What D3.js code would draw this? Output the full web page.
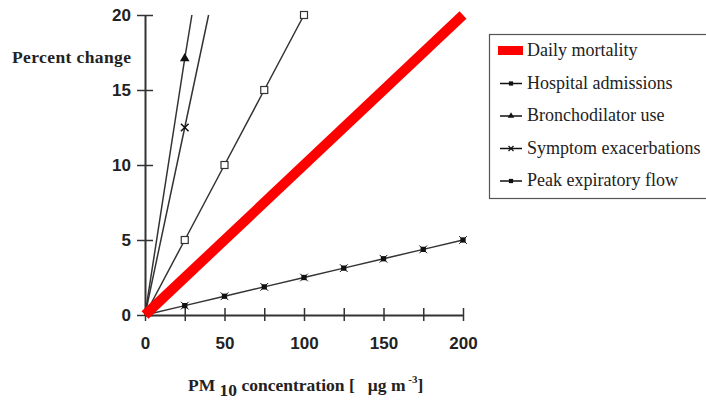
<!DOCTYPE html>
<html><head><meta charset="utf-8">
<script src="https://cdn.jsdelivr.net/npm/d3@7"></script>
<style>body{margin:0;background:#fff}svg{display:block}</style>
</head><body>
<script>
// Data
const xTicks = [0, 25, 50, 75, 100, 125, 150, 175, 200];
const xTickLabels = [0, 50, 100, 150, 200];
const yTicks = [0, 5, 10, 15, 20];
const mortalityX = [0, 200];
const mortalityY = [0, 20];
const hospitalX = [0, 25, 50, 75, 100];
const hospitalY = [0, 5, 10, 15, 20];
const bronchoX = [0, 25, 29.5];
const bronchoY = [0, 17.1, 20];
const symptomX = [0, 25, 40];
const symptomY = [0, 12.5, 20];
const peakX = [0, 25, 50, 75, 100, 125, 150, 175, 200];
const peakY = [0, 0.625, 1.25, 1.875, 2.5, 3.125, 3.75, 4.375, 5];
const legendLabels = ["Daily mortality", "Hospital admissions", "Bronchodilator use", "Symptom exacerbations", "Peak expiratory flow"];

const W = 706, H = 402;
const svg = d3.select("body").append("svg").attr("width", W).attr("height", H);
const x = d3.scaleLinear().domain([0, 200]).range([145, 463]);
const y = d3.scaleLinear().domain([0, 20]).range([315, 15]);
const ink = "#333";
const serif = "Liberation Serif, Times New Roman, serif";
const sans = "Liberation Sans, Arial, sans-serif";

// axes
const gy = svg.append("g").attr("transform", `translate(${x(0)},0)`)
  .call(d3.axisLeft(y).tickValues(yTicks).tickSize(0).tickPadding(14));
gy.select(".domain").attr("stroke", ink).attr("stroke-width", 2);
gy.selectAll(".tick").append("line").attr("x1", -8).attr("x2", 8).attr("stroke", ink).attr("stroke-width", 1.5);
gy.selectAll("text").attr("font-family", sans).attr("font-weight", "bold").attr("font-size", 17).attr("fill", "#222");

const gx = svg.append("g").attr("transform", `translate(0,${y(0)})`)
  .call(d3.axisBottom(x).tickValues(xTicks).tickSize(0).tickPadding(22)
    .tickFormat(d => xTickLabels.includes(d) ? d : ""));
gx.select(".domain").attr("stroke", ink).attr("stroke-width", 2);
gx.selectAll(".tick").append("line").attr("y1", -7).attr("y2", 6).attr("stroke", ink).attr("stroke-width", 1.5);
gx.selectAll("text").attr("font-family", sans).attr("font-weight", "bold").attr("font-size", 17).attr("fill", "#222");

// axis titles
svg.append("text").attr("x", 12).attr("y", 63)
  .attr("font-family", serif).attr("font-weight", "bold").attr("font-size", 17.5).attr("fill", "#222")
  .attr("textLength", 119).attr("lengthAdjust", "spacing")
  .text("Percent change");
const xt = svg.append("text").attr("x", 188).attr("y", 391)
  .style("white-space", "pre")
  .attr("font-family", serif).attr("font-weight", "bold").attr("font-size", 17.5).attr("fill", "#222");
xt.append("tspan").text("PM ");
xt.append("tspan").attr("dy", 5).text("10");
xt.append("tspan").attr("dy", -5).text(" concentration [   μg m");
xt.append("tspan").attr("dy", -8).attr("font-size", 11).text(" -3");
xt.append("tspan").attr("dy", 8).text("]");

const line = d3.line().x(d => x(d[0])).y(d => y(d[1]));
const zip = (a, b) => a.map((v, i) => [v, b[i]]);

// series lines
[[hospitalX, hospitalY], [bronchoX, bronchoY], [symptomX, symptomY], [peakX, peakY]].forEach(([xs, ys]) => {
  svg.append("path").attr("d", line(zip(xs, ys))).attr("fill", "none").attr("stroke", ink).attr("stroke-width", 1.5);
});

// markers
const hosp = zip(hospitalX, hospitalY).slice(1);
svg.selectAll(".sq").data(hosp).join("rect")
  .attr("x", d => x(d[0]) - 3.5).attr("y", d => y(d[1]) - 3.5).attr("width", 7).attr("height", 7)
  .attr("fill", "#fff").attr("stroke", ink).attr("stroke-width", 1.2);
const br = zip(bronchoX, bronchoY).slice(1, 2);
svg.selectAll(".tri").data(br).join("path")
  .attr("d", d3.symbol(d3.symbolTriangle, 40))
  .attr("transform", d => `translate(${x(d[0])},${y(d[1])})`).attr("fill", "#111");
const sy = zip(symptomX, symptomY).slice(1, 2);
svg.selectAll(".cr").data(sy).join("path")
  .attr("d", d3.symbol(d3.symbolX, 40))
  .attr("transform", d => `translate(${x(d[0])},${y(d[1])})`).attr("fill", "none").attr("stroke", "#111").attr("stroke-width", 1.5);
const pk = zip(peakX, peakY).slice(1);
svg.selectAll(".pk").data(pk).join("path")
  .attr("d", d3.symbol(d3.symbolSquare, 28))
  .attr("transform", d => `translate(${x(d[0])},${y(d[1])})`).attr("fill", "#111");
svg.selectAll(".pkx").data(pk).join("path")
  .attr("d", d3.symbol(d3.symbolX, 40))
  .attr("transform", d => `translate(${x(d[0])},${y(d[1])})`).attr("fill", "none").attr("stroke", "#111").attr("stroke-width", 1);

// daily mortality
svg.append("path").attr("d", line(zip(mortalityX, mortalityY))).attr("fill", "none")
  .attr("stroke", "#f00").attr("stroke-width", 10);

// legend
const lg = svg.append("g");
lg.append("rect").attr("x", 489.5).attr("y", 34.5).attr("width", 230).attr("height", 164)
  .attr("fill", "#fff").attr("stroke", "#555").attr("stroke-width", 1.2);
legendLabels.forEach((t, i) => {
  const cy = 50 + i * 32.5;
  if (i === 0) {
    lg.append("rect").attr("x", 498).attr("y", cy - 4).attr("width", 25).attr("height", 9).attr("fill", "#f00");
  } else {
    lg.append("line").attr("x1", 500).attr("x2", 522).attr("y1", cy + 1).attr("y2", cy + 1).attr("stroke", "#111").attr("stroke-width", 1.5);
    const sym = [d3.symbolSquare, d3.symbolTriangle, d3.symbolX, d3.symbolSquare][i - 1];
    const p = lg.append("path").attr("d", d3.symbol(sym, 18)).attr("transform", `translate(511,${cy + 1})`);
    if (i === 3) p.attr("fill", "none").attr("stroke", "#111").attr("stroke-width", 1.2);
    else p.attr("fill", "#111");
  }
  lg.append("text").attr("x", 527).attr("y", cy + 6)
    .attr("font-family", serif).attr("font-size", 18).attr("fill", "#222")
    .text(t);
});
</script>
</body></html>
